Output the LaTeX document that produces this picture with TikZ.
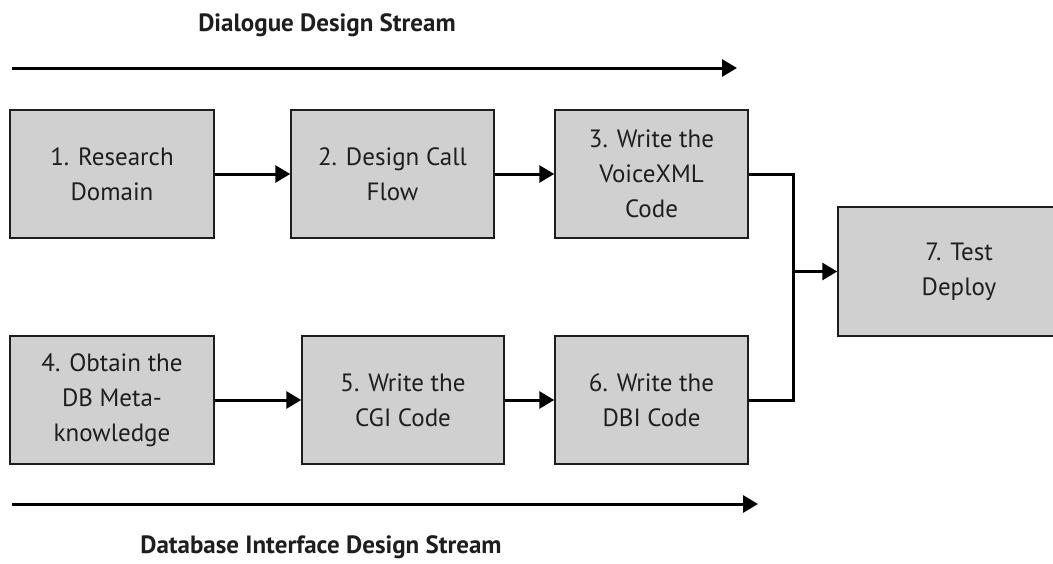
\documentclass[tikz,border=0pt]{standalone}
\usepackage{fontspec}
\setmainfont{PT Sans}
\usetikzlibrary{arrows.meta}
\definecolor{boxfill}{RGB}{208,208,208}
\definecolor{ink}{RGB}{30,30,30}
\tikzset{
  stepbox/.style={draw=ink, line width=1.5pt, fill=boxfill, rectangle,
    minimum height=128pt, inner sep=0pt, align=center, text=ink,
    font=\fontsize{25}{35}\selectfont},
  flow/.style={draw=black, line width=3pt, line join=miter,
    -{Triangle[length=15pt,width=17pt]}},
  plain/.style={draw=black, line width=3pt, line join=miter},
  stream/.style={font=\bfseries\fontsize{25}{30}\selectfont, text=ink}
}
\begin{document}
\begin{tikzpicture}[x=1pt,y=-1pt]
  \useasboundingbox (0,0) rectangle (1053,563);
  \clip (0,0) rectangle (1053,563);

  % stream labels and arrows
  \node[stream] (dtitle) at (327,25) {Dialogue Design Stream};
  \node[stream] (btitle) at (321,547) {Database Interface Design Stream};
  \coordinate (ds0) at (12,68);
  \coordinate (ds1) at (737,68);
  \coordinate (bs0) at (12,504);
  \coordinate (bs1) at (758,504);
  \draw[flow] (ds0) -- (ds1);
  \draw[flow] (bs0) -- (bs1);

  % process steps
  \node[stepbox, minimum width=204pt] (b1) at (112,174) {1. Research\\Domain};
  \node[stepbox, minimum width=203pt] (b2) at (392.5,174) {2. Design Call\\Flow};
  \node[stepbox, minimum width=193pt] (b3) at (651.5,174) {3. Write the\\VoiceXML\\Code};
  \node[stepbox, minimum width=204pt] (b4) at (112,400) {4. Obtain the\\DB Meta-\\knowledge};
  \node[stepbox, minimum width=202pt] (b5) at (403,400) {5. Write the\\CGI Code};
  \node[stepbox, minimum width=193pt] (b6) at (651.5,400) {6. Write the\\DBI Code};
  \node[stepbox, minimum width=242pt, minimum height=129pt] (b7) at (959,271.5) {7. Test\\Deploy};

  % connectors
  \coordinate (jn) at (793,271.5);
  \draw[flow] (b1) -- (b2);
  \draw[flow] (b2) -- (b3);
  \draw[flow] (b4) -- (b5);
  \draw[flow] (b5) -- (b6);
  \draw[plain] (b3.east) -| (jn);
  \draw[plain] (b6.east) -| (jn);
  \draw[flow] (jn) -- (b7.west);
\end{tikzpicture}
\end{document}
